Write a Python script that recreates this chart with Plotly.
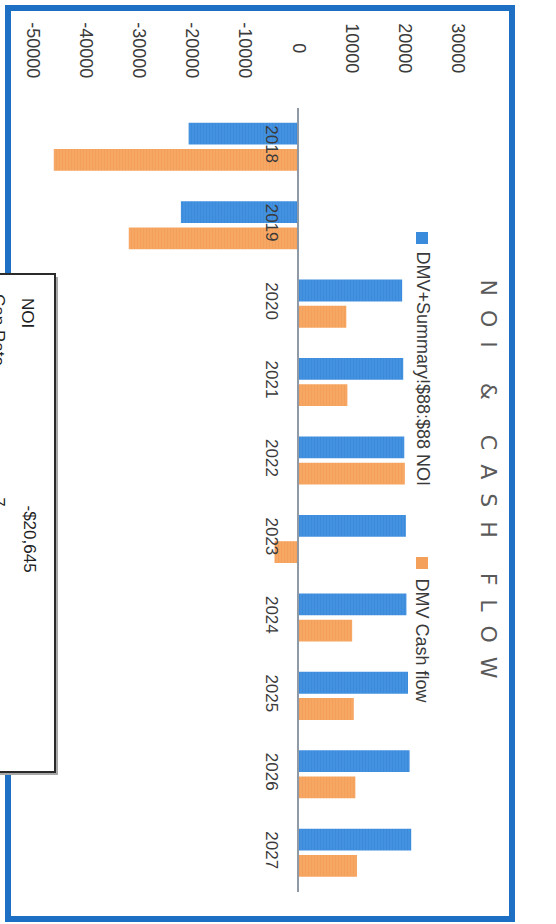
import plotly.graph_objects as go

# ---- data -------------------------------------------------------------
years = ["2018", "2019", "2020", "2021", "2022", "2023", "2024", "2025", "2026", "2027"]
noi = [-20645, -22100, 19500, 19700, 19900, 20200, 20300, 20600, 20900, 21200]
cash_flow = [-46000, -31900, 9000, 9200, 20000, -4500, 10100, 10400, 10700, 11000]
series_names = ["DMV+Summary!$88:$88 NOI", "DMV Cash flow"]
value_ticks = [-50000, -40000, -30000, -20000, -10000, 0, 10000, 20000, 30000]
title_text = "NOI & CASH FLOW"
box_labels = ["NOI", "Cap Rate"]
box_values = ["-$20,645", "7"]

# ---- styling ----------------------------------------------------------
W, H = 556, 924
BLUE, BLUE_STRIPE = "#3A8BDC", "#67A7E6"
ORANGE, ORANGE_STRIPE = "#F5A05A", "#F8BC85"
FRAME = "#1C6FC2"
AXIS_GRAY = "#8F9AA6"
TEXT = "#3A3A3A"
TITLE_GRAY = "#5A5A5A"
FONT = "Liberation Sans"
NBSP = "\u00a0"


def px(x):
    return x / W


def py(y):
    return 1 - y / H


def centred_tick(label):
    # rotated tick labels are end-anchored; pad short ones so all sit centred
    widths = {"-": 0.333}
    w = lambda s: sum(widths.get(c, 0.556) for c in s)
    longest = max(w(str(v)) for v in value_ticks)
    pad = int(round((longest - w(label)) / 2 / 0.278))
    return label + NBSP * pad


x_dom = [px(32.5), px(458)]
y_dom = [py(892), py(107.5)]
x_range = [value_ticks[0], value_ticks[-1]]
# horizontal paper position of the zero value, where the category axis sits
zero_pos = x_dom[0] + (0 - x_range[0]) / (x_range[1] - x_range[0]) * (x_dom[1] - x_dom[0])

fig = go.Figure()
for vals, name, col, stripe in [(noi, series_names[0], BLUE, BLUE_STRIPE),
                                (cash_flow, series_names[1], ORANGE, ORANGE_STRIPE)]:
    fig.add_bar(
        y=years, x=vals, orientation="h", name=name,
        marker=dict(color=col, line_width=0,
                    pattern=dict(shape="|", bgcolor=col, fgcolor=stripe,
                                 size=3, solidity=0.3)),
    )

fig.update_layout(
    width=W, height=H,
    margin=dict(l=0, r=0, t=0, b=0, autoexpand=False),
    paper_bgcolor="white", plot_bgcolor="rgba(0,0,0,0)",
    barmode="group", bargap=0.33, bargroupgap=0.17,
    showlegend=False,
    xaxis=dict(
        domain=x_dom, range=x_range, side="top",
        tickmode="array", tickvals=value_ticks,
        ticktext=[centred_tick(str(v)) for v in value_ticks],
        tickangle=90, tickfont=dict(family=FONT, size=18, color=TEXT),
        ticks="outside", ticklen=22, tickcolor="rgba(0,0,0,0)",
        showgrid=False, zeroline=False, showline=False,
    ),
    yaxis=dict(
        domain=y_dom, type="category", categoryorder="array", categoryarray=years,
        range=[len(years) - 0.5, -0.5],
        anchor="free", position=zero_pos,
        showline=True, linecolor=AXIS_GRAY, linewidth=1.5,
        ticks="outside", ticklen=11, tickcolor="rgba(0,0,0,0)",
        tickangle=90, tickfont=dict(family=FONT, size=17, color=TEXT),
        showgrid=False, zeroline=False,
    ),
)

shapes = []
annotations = []

# chart frame
shapes.append(dict(type="rect", xref="paper", yref="paper",
                   x0=px(8), x1=px(512), y0=py(8), y1=py(919),
                   line=dict(color=FRAME, width=6), fillcolor="rgba(0,0,0,0)"))

# title, letter-spaced and reading top to bottom
spaced_title = (NBSP * 5).join((NBSP * 2).join(word) for word in title_text.split(" "))
annotations.append(dict(text=spaced_title, xref="paper", yref="paper",
                        x=px(488), y=py(478.5), xanchor="center", yanchor="middle",
                        textangle=90, showarrow=False,
                        font=dict(family="DejaVu Sans", size=22, color=TITLE_GRAY)))

# legend: coloured squares with rotated labels
legend_rows = [(232, 249, BLUE, series_names[0]), (557, 576, ORANGE, series_names[1])]
for sq_top, txt_top, col, name in legend_rows:
    shapes.append(dict(type="rect", xref="paper", yref="paper",
                       x0=px(416), x1=px(428), y0=py(sq_top + 12), y1=py(sq_top),
                       line=dict(width=0), fillcolor=col))
    annotations.append(dict(text=name, xref="paper", yref="paper",
                            x=px(422), y=py(txt_top), xanchor="center", yanchor="top",
                            textangle=90, showarrow=False,
                            font=dict(family=FONT, size=18, color=TEXT)))

# summary text box in the lower-left corner
shapes.append(dict(type="rect", xref="paper", yref="paper",
                   x0=px(-10), x1=px(58), y0=py(775), y1=py(277),
                   line=dict(width=0), fillcolor="#A8A8A8"))
shapes.append(dict(type="rect", xref="paper", yref="paper",
                   x0=px(-10), x1=px(55), y0=py(772), y1=py(274),
                   line=dict(color="#2B2B2B", width=2), fillcolor="white"))

box_font = dict(family=FONT, size=17, color="#1E1E1E")
# first row, fully inside the box
annotations.append(dict(text=box_labels[0], xref="paper", yref="paper",
                        x=px(28), y=py(296), xanchor="center", yanchor="top",
                        textangle=90, showarrow=False, font=box_font))
annotations.append(dict(text=box_values[0], xref="paper", yref="paper",
                        x=px(29), y=py(574), xanchor="center", yanchor="bottom",
                        textangle=90, showarrow=False, font=box_font))
# second row runs off the left edge of the page; drawn as shape labels so it can be clipped
for text, y_mid in [(box_labels[1], 330), (box_values[1], 502)]:
    shapes.append(dict(type="rect", xref="paper", yref="paper",
                       x0=px(-20), x1=px(20), y0=py(y_mid + 20), y1=py(y_mid - 20),
                       line=dict(width=0), fillcolor="rgba(0,0,0,0)",
                       label=dict(text=text, textangle=90, textposition="middle center",
                                  font=box_font)))

fig.update_layout(shapes=shapes, annotations=annotations)
fig.write_html("out.html")
